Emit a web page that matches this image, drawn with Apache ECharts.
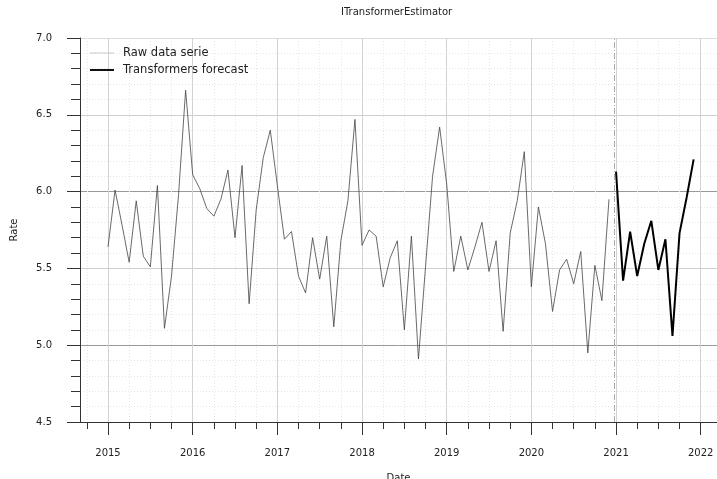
<!DOCTYPE html>
<html><head><meta charset="utf-8">
<script src="https://cdn.jsdelivr.net/npm/echarts@6/dist/echarts.min.js"></script>
<style>html,body{margin:0;padding:0;background:#fff}#c{width:717px;height:479px}</style>
</head><body><div id="c"></div>
<script>
const chartTitle = 'ITransformerEstimator';
const rawName = 'Raw data serie';
const forecastName = 'Transformers forecast';
const rawStartYear = 2015, rawStartMonth = 1;
const rawValues = [5.64,6.01,5.78,5.54,5.94,5.58,5.51,6.04,5.11,5.45,5.98,6.66,
  6.11,6.02,5.89,5.84,5.95,6.14,5.70,6.17,5.27,5.88,6.22,6.40,
  6.04,5.69,5.74,5.45,5.34,5.70,5.43,5.71,5.12,5.68,5.94,6.47,
  5.65,5.75,5.71,5.38,5.57,5.68,5.10,5.71,4.91,5.51,6.10,6.42,
  6.05,5.48,5.71,5.49,5.64,5.80,5.48,5.68,5.09,5.73,5.94,6.26,
  5.38,5.90,5.66,5.22,5.49,5.56,5.40,5.61,4.95,5.52,5.29,5.95];
const forecastStartYear = 2021, forecastStartMonth = 1;
const forecastValues = [6.13,5.42,5.74,5.45,5.66,5.81,5.49,5.69,5.06,5.73,5.96,6.21];
const yearTickLabels = [2015,2016,2017,2018,2019,2020,2021,2022];
const yTickLabels = [4.5,5.0,5.5,6.0,6.5,7.0];
const cutoffDate = 2020.976;
const xMin = 2014.6693, xMax = 2022.1925;

function toPairs(y0, m0, vals) {
  return vals.map((v, i) => [y0 + (m0 - 1 + i) / 12, v]);
}

const chart = echarts.init(document.getElementById('c'), null, {renderer: 'canvas'});
const font = 'DejaVu Sans';
const hiddenSymbol = {color: 'rgba(0,0,0,0)', borderColor: 'rgba(0,0,0,0)', borderWidth: 0};
chart.setOption({
  animation: false,
  backgroundColor: '#fff',
  title: {
    text: chartTitle, left: 341, top: 7, padding: 0,
    textStyle: {fontFamily: font, fontSize: 10, fontWeight: 'normal', color: '#222'}
  },
  legend: {
    orient: 'vertical', left: 89, top: 47, padding: 0, itemWidth: 24, itemHeight: 12, itemGap: 5,
    textStyle: {fontFamily: font, fontSize: 11.5, color: '#222', padding: [0,0,0,4]},
    data: [
      {name: rawName, itemStyle: hiddenSymbol, lineStyle: {color: '#c8c8c8', width: 1}},
      {name: forecastName, itemStyle: hiddenSymbol, lineStyle: {color: '#111', width: 2}}
    ]
  },
  grid: {left: 80, right: 0, top: 38, bottom: 57, containLabel: false, outerBoundsMode: 'none'},
  xAxis: {
    type: 'value', min: xMin, max: xMax, splitNumber: 7,
    name: 'Date', nameLocation: 'middle', nameGap: 51,
    nameTextStyle: {fontFamily: font, fontSize: 10, color: '#222'},
    axisLine: {show: true, lineStyle: {color: '#333', width: 1}},
    axisTick: {show: true, length: 13, lineStyle: {color: '#333'}, customValues: yearTickLabels},
    minorTick: {show: true, splitNumber: 4, length: 7, lineStyle: {color: '#333'}},
    axisLabel: {
      margin: 26, fontFamily: font, fontSize: 10, color: '#222',
      customValues: yearTickLabels,
      formatter: v => String(Math.round(v))
    },
    splitLine: {show: true, lineStyle: {color: '#d2d2d2', width: 1}},
    minorSplitLine: {show: true, lineStyle: {color: '#e6e6e6', width: 1, type: [1, 2]}}
  },
  yAxis: {
    type: 'value', min: 4.5, max: 7.0, interval: 0.5,
    name: 'Rate', nameLocation: 'middle', nameGap: 61, nameRotate: 90,
    nameTextStyle: {fontFamily: font, fontSize: 10, color: '#222'},
    axisLine: {show: true, lineStyle: {color: '#333', width: 1}},
    axisTick: {show: true, length: 13, lineStyle: {color: '#333'}},
    minorTick: {show: true, splitNumber: 5, length: 9, lineStyle: {color: '#333'}},
    axisLabel: {
      margin: 28, fontFamily: font, fontSize: 10, color: '#222',
      formatter: v => { const t = yTickLabels.find(x => Math.abs(x - v) < 1e-6); return t != null ? t.toFixed(1) : ''; }
    },
    splitLine: {show: true, lineStyle: {color: ['#999', '#999', '#cfcfcf', '#999', '#cfcfcf', '#dcdcdc'], width: 1}},
    minorSplitLine: {show: true, lineStyle: {color: '#e6e6e6', width: 1, type: [1, 2]}}
  },
  series: [
    {
      name: rawName, type: 'line', symbol: 'none', showSymbol: false,
      data: toPairs(rawStartYear, rawStartMonth, rawValues),
      lineStyle: {color: '#444', width: 0.8}, itemStyle: {color: '#444'},
      markLine: {
        symbol: 'none', silent: true, label: {show: false},
        lineStyle: {color: '#aaa', width: 1, type: [6, 2, 1, 2]},
        data: [{xAxis: cutoffDate}]
      },
      z: 3
    },
    {
      name: forecastName, type: 'line', symbol: 'none', showSymbol: false,
      data: toPairs(forecastStartYear, forecastStartMonth, forecastValues),
      lineStyle: {color: '#000', width: 2}, itemStyle: {color: '#000'},
      z: 4
    }
  ]
});
</script></body></html>
